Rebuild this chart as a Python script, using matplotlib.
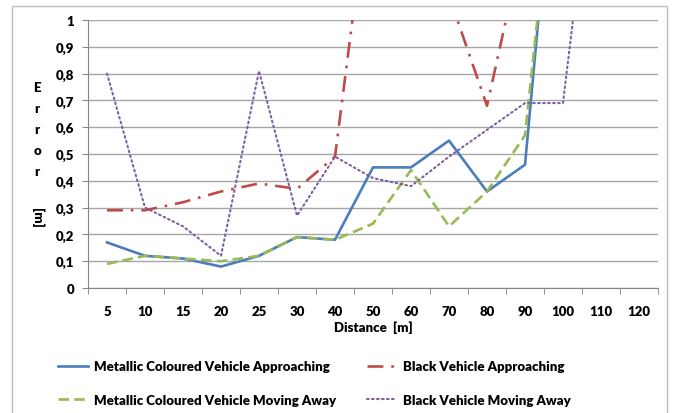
import numpy as np
import matplotlib
matplotlib.use("Agg")
import matplotlib.pyplot as plt
from matplotlib.patches import Rectangle
from matplotlib.ticker import FuncFormatter, MultipleLocator

plt.rcParams['font.family'] = ['Lato', 'DejaVu Sans']
plt.rcParams['font.weight'] = 'heavy'

# Data (values above 1 run off the top of the axis)
distances = ["5", "10", "15", "20", "25", "30", "40", "50", "60", "70", "80", "90", "100", "110", "120"]
metallic_approaching = [0.17, 0.12, 0.11, 0.08, 0.12, 0.19, 0.18, 0.45, 0.45, 0.55, 0.36, 0.46, 2.0, np.nan, np.nan]
metallic_moving_away = [0.09, 0.12, 0.11, 0.10, 0.12, 0.19, 0.18, 0.24, 0.44, 0.23, 0.36, 0.57, 1.9, np.nan, np.nan]
black_approaching = [0.29, 0.29, 0.32, 0.36, 0.39, 0.37, 0.49, 1.6, 1.5, 1.09, 0.68, 1.32, 1.5, np.nan, np.nan]
black_moving_away = [0.80, 0.30, 0.23, 0.12, 0.81, 0.27, 0.49, 0.41, 0.38, 0.49, 0.59, 0.69, 0.69, 1.87, np.nan]

W, H = 673, 414
fig = plt.figure(figsize=(W / 100, H / 100), dpi=100)
ax = fig.add_axes([88 / W, 1 - 289 / H, (658 - 88) / W, (289 - 21) / H])

x = np.arange(len(distances))
lw = 1.9
l1, = ax.plot(x, metallic_approaching, color="#4A7EBB", lw=lw, ls="-",
              label="Metallic Coloured Vehicle Approaching")
l2, = ax.plot(x, metallic_moving_away, color="#98B954", lw=lw, ls=(0, (4, 2)),
              label="Metallic Coloured Vehicle Moving Away")
l3, = ax.plot(x, black_approaching, color="#BE4B48", lw=lw, ls=(0, (6, 3, 1, 3)),
              label="Black Vehicle Approaching")
l4, = ax.plot(x, black_moving_away, color="#7D60A0", lw=1.5, ls=(0, (0.8, 1.6)),
              dash_capstyle="round", label="Black Vehicle Moving Away")

ax.set_xlim(-0.5, len(distances) - 0.5)
ax.set_ylim(0, 1)
ax.set_xticks(x)
ax.set_xticklabels(distances)
ax.set_xticks(np.arange(len(distances) + 1) - 0.5, minor=True)
ax.yaxis.set_major_locator(MultipleLocator(0.1))
ax.yaxis.set_major_formatter(FuncFormatter(
    lambda v, p: "0" if abs(v) < 1e-9 else ("1" if abs(v - 1) < 1e-9 else f"{v:.1f}".replace(".", ","))))

ax.tick_params(axis="x", which="major", length=0, pad=12, labelsize=9.5)
ax.tick_params(axis="x", which="minor", length=4, color="#868686", direction="out")
ax.tick_params(axis="y", length=4, color="#868686", pad=6, labelsize=9.5)

ax.grid(axis="y", color="#A6A6A6", lw=1)
ax.set_axisbelow(True)
for side in ["top", "right"]:
    ax.spines[side].set_visible(False)
for side in ["left", "bottom"]:
    ax.spines[side].set_color("#868686")

# axis titles
fig.text(373 / W, 1 - 328 / H, "Distance  [m]", ha="center", va="center", fontsize=9.5)
for i, ch in enumerate("Error"):
    fig.text(37 / W, 1 - (88 + 21 * i) / H, ch, ha="center", va="center", fontsize=9.5)
fig.text(37 / W, 1 - 218 / H, "[m]", ha="center", va="center", fontsize=9.5, rotation=-90)

# legend: two columns placed separately
leg_kw = dict(loc="center left", frameon=False, fontsize=9.5, handlelength=2.3,
              handletextpad=0.45, labelspacing=1.6, borderpad=0, borderaxespad=0)
leg1 = fig.legend([l1, l2], [l1.get_label(), l2.get_label()],
                  bbox_to_anchor=(58 / W, 1 - 384 / H), **leg_kw)
leg2 = fig.legend([l3, l4], [l3.get_label(), l4.get_label()],
                  bbox_to_anchor=(367 / W, 1 - 384 / H), **leg_kw)

fig.patches.append(Rectangle((12 / W, -0.05), (667 - 12) / W, 1.05 - 7 / H,
                             transform=fig.transFigure, fill=False,
                             edgecolor="#BFBFBF", lw=1))

fig.savefig("out.png", dpi=100)
